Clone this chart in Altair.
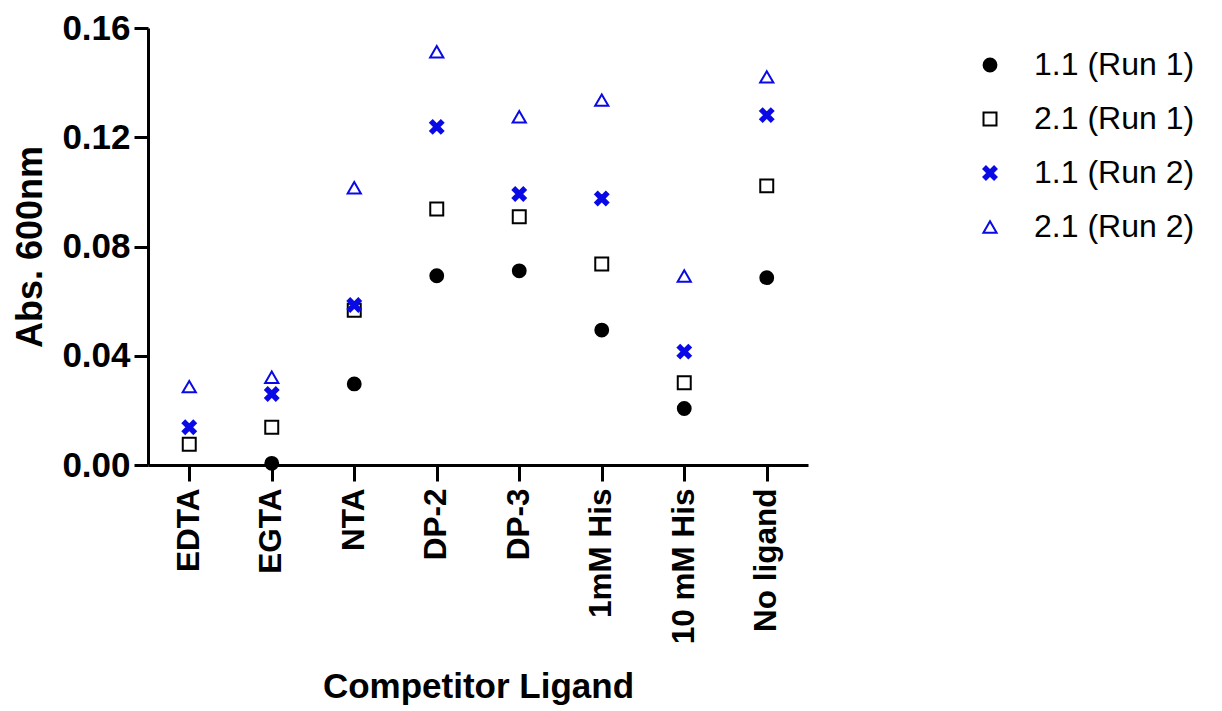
import altair as alt
import pandas as pd

categories = ["EDTA", "EGTA", "NTA", "DP-2", "DP-3", "1mM His", "10 mM His", "No ligand"]
series = ["1.1 (Run 1)", "2.1 (Run 1)", "1.1 (Run 2)", "2.1 (Run 2)"]

s11_run1 = [None, 0.0006, 0.0297, 0.0693, 0.0711, 0.0494, 0.0207, 0.0686]
s21_run1 = [0.0076, 0.0138, 0.0567, 0.0937, 0.0909, 0.0736, 0.0301, 0.1022]
s11_run2 = [0.0138, 0.0260, 0.0586, 0.1238, 0.0992, 0.0976, 0.0415, 0.1281]
s21_run2 = [0.0287, 0.0321, 0.1015, 0.1513, 0.1275, 0.1336, 0.0692, 0.1421]

y_ticks = [0.0, 0.04, 0.08, 0.12, 0.16]

rows = []
for name, vals in zip(series, [s11_run1, s21_run1, s11_run2, s21_run2]):
    for c, v in zip(categories, vals):
        rows.append({"ligand": c, "series": name, "value": v})
df = pd.DataFrame(rows)

BLUE = "#0a0ae6"
X_PATH = "M-1,-0.62L-0.62,-1L0,-0.38L0.62,-1L1,-0.62L0.38,0L1,0.62L0.62,1L0,0.38L-0.62,1L-1,0.62L-0.38,0Z"

FONT = "Liberation Sans"

chart = alt.Chart(df).mark_point(strokeWidth=2, opacity=1).encode(
    x=alt.X("ligand:N", sort=categories,
            scale=alt.Scale(type="point", domain=categories, padding=0.5),
            axis=alt.Axis(title="Competitor Ligand", labelAngle=270, labelAlign="right",
                          labelBaseline="middle", labelFontSize=31.5, labelFontWeight="bold",
                          labelFont=FONT, labelPadding=7, tickSize=16, tickWidth=3,
                          domainWidth=3, domainColor="black", tickColor="black",
                          titleFontSize=35, titleFont=FONT, titleFontWeight="bold",
                          titlePadding=26, grid=False, labelColor="black", titleColor="black")),
    y=alt.Y("value:Q", scale=alt.Scale(domain=[0, 0.16], nice=False, zero=True),
            axis=alt.Axis(title="Abs. 600nm", values=y_ticks, format=".2f",
                          labelFontSize=35, labelFontWeight="bold", labelFont=FONT,
                          labelPadding=4, tickSize=14, tickWidth=3, domainWidth=3,
                          domainColor="black", tickColor="black",
                          titleFontSize=36, titleFont=FONT, titleFontWeight="bold",
                          titlePadding=12, grid=False, labelColor="black", titleColor="black")),
    shape=alt.Shape("series:N", sort=series,
                    scale=alt.Scale(domain=series, range=["circle", "square", X_PATH, "triangle-up"]),
                    legend=alt.Legend(title=None, orient="none", legendX=826, legendY=21,
                                      labelFontSize=32, labelFont=FONT, labelColor="black",
                                      labelOffset=28, labelLimit=400, rowPadding=22,
                                      symbolSize=130, symbolStrokeWidth=2, padding=0)),
    stroke=alt.Stroke("series:N", sort=series,
                      scale=alt.Scale(domain=series, range=["black", "black", BLUE, BLUE])),
    fill=alt.Fill("series:N", sort=series,
                  scale=alt.Scale(domain=series, range=["black", "transparent", BLUE, "transparent"])),
    size=alt.Size("series:N", sort=series,
                  scale=alt.Scale(domain=series, range=[165, 175, 185, 200])),
).properties(
    width=660, height=437,
    autosize=alt.AutoSizeParams(type="none"),
    padding={"left": 140, "top": 20, "right": 398, "bottom": 244},
).configure(background="white").configure_view(stroke=None)

chart.save("out.html", embed_options={"renderer": "svg", "actions": False})
